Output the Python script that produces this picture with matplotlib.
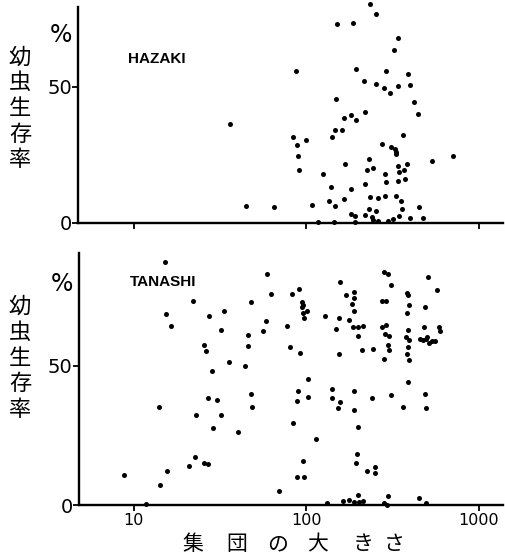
import matplotlib
matplotlib.use("Agg")
import matplotlib.pyplot as plt
from matplotlib.ticker import NullLocator, FixedLocator, FixedFormatter

# ---------------- data ----------------
# HAZAKI: colony size (individuals) and larval survival (%)
hazaki_size = [36, 45, 65, 87, 84, 88, 89, 91, 100, 108, 117, 124, 135, 138, 141,
               145, 146, 147, 148, 150, 160, 164, 167, 166, 180, 181, 180, 185, 191,
               193, 194, 191, 214, 217, 217, 217, 224, 229, 231, 234, 234, 239, 242,
               242, 253, 252, 253, 259, 258, 274, 280, 284, 284, 290, 290, 295, 306,
               308, 317, 320, 327, 331, 330, 331, 337, 337, 337, 337, 342, 342, 353,
               355, 363, 369, 371, 383, 388, 396, 400, 418, 443, 447, 472, 535, 708]
hazaki_surv = [36.3, 6.3, 5.9, 55.8, 31.5, 28.8, 24.5, 19.4, 30.5, 6.7, 0.4, 17.9, 8.0,
               13.1, 31.7, 0.4, 6.4, 34.3, 45.6, 73.0, 34.3, 38.7, 21.6, 8.9, 12.6, 39.7,
               3.4, 73.5, 2.7, 37.7, 56.6, 0.4, 52.2, 40.9, 14.3, 2.8, 19.4, 23.7, 5.3,
               80.6, 9.4, 2.2, 20.2, 1.0, 76.7, 51.2, 4.4, 9.1, 0.7, 29.2, 49.8, 17.9,
               9.9, 15.1, 55.8, 0.7, 47.8, 27.9, 1.6, 63.5, 27.3, 26.1, 25.2, 9.8, 68.1,
               50.2, 20.8, 15.3, 18.8, 2.5, 8.1, 5.0, 32.2, 19.6, 16.1, 21.8, 54.7, 50.9,
               1.8, 44.5, 40.2, 5.9, 1.8, 22.7, 24.6]

# TANASHI
tanashi_size = [8.8, 11.7, 13.9, 14.1, 15.2, 15.4, 15.6, 16.3, 20.9, 22.0, 22.7, 23.0,
                25.4, 25.4, 26.1, 26.8, 27.0, 27.1, 28.4, 28.7, 30.3, 31.9, 32.1, 33.1,
                35.5, 40.3, 44.3, 45.7, 45.7, 47.5, 47.7, 48.6, 55.7, 58.2, 59.3, 62.0,
                69.5, 77.6, 80.8, 83.0, 83.7, 88.3, 88.7, 89.5, 90.3, 91.5, 94.4, 94.8,
                95.7, 95.7, 95.7, 96.5, 97.0, 101, 102, 102, 114, 128, 132, 141, 141, 149,
                153, 154, 154, 156, 156, 164, 169, 176, 176, 186, 188, 189, 184, 190, 189,
                188, 188, 198, 198, 199, 196, 193, 199, 203, 212, 212, 210, 224, 245, 240,
                251, 249, 273, 290, 282, 297, 311, 274, 290, 287, 300, 297, 303, 283, 309,
                283, 296, 292, 361, 381, 389, 391, 381, 386, 378, 395, 386, 381, 391, 386,
                447, 497, 508, 573, 488, 482, 587, 593, 455, 475, 497, 515, 534, 558, 503,
                488, 497]
tanashi_surv = [10.8, 0.3, 35.4, 7.3, 87.4, 68.7, 12.4, 64.4, 13.9, 73.3, 17.3, 32.3,
                57.4, 15.0, 55.2, 14.6, 38.6, 67.8, 48.0, 27.7, 37.8, 32.5, 63.0, 69.6,
                51.3, 26.3, 49.8, 61.3, 57.2, 72.9, 39.8, 35.3, 62.4, 66.0, 83.0, 75.8,
                5.1, 64.4, 56.9, 76.0, 29.6, 37.5, 9.9, 40.9, 77.5, 54.7, 71.3, 73.1,
                71.9, 68.9, 16.0, 9.9, 67.1, 69.8, 45.3, 38.8, 23.6, 67.8, 0.6, 41.8,
                38.4, 63.4, 34.8, 54.3, 67.2, 80.2, 37.1, 1.5, 75.4, 66.4, 1.7, 64.0,
                76.7, 74.3, 72.2, 69.8, 41.0, 34.0, 1.2, 64.1, 60.6, 28.0, 18.2, 15.2,
                3.6, 1.2, 64.2, 1.4, 55.8, 12.1, 56.1, 38.5, 13.7, 11.5, 73.2, 73.2,
                83.8, 83.0, 79.2, 64.0, 64.7, 61.5, 60.6, 57.4, 55.8, 52.5, 39.6, 0.7,
                3.2, 0.0, 35.2, 76.4, 75.5, 71.9, 69.2, 62.9, 60.5, 59.3, 56.9, 54.4,
                52.0, 44.2, 2.5, 0.8, 81.8, 77.3, 71.2, 63.9, 63.9, 62.7, 59.6, 59.2,
                59.8, 58.3, 58.8, 58.8, 60.3, 39.9, 34.8]

panel_names = ["HAZAKI", "TANASHI"]
x_ticks = [10, 100, 1000]
x_tick_labels = ["10", "100", "1000"]
y_ticks = [0, 50]
y_tick_labels = ["0", "50"]
y_label_chars = ["幼", "虫", "生", "存", "率"]
x_label_chars = ["集", "団", "の", "大", "き", "さ"]

# ---------------- figure ----------------
W, H = 506, 560
fig = plt.figure(figsize=(W / 100, H / 100), dpi=100)
fig.patch.set_facecolor("white")

ax1 = fig.add_axes([0.155, 0.6018, 0.84, 0.3857])
ax2 = fig.add_axes([0.156, 0.0982, 0.838, 0.45])

cjk = ["Noto Sans CJK JP", "DejaVu Sans"]


def style(ax, ytop, show_xlabels):
    ax.set_xscale("log")
    ax.set_xlim(4.8, 1380)
    ax.set_ylim(0, ytop)
    for s in ("top", "right"):
        ax.spines[s].set_visible(False)
    for s in ("left", "bottom"):
        ax.spines[s].set_linewidth(1.7)
        ax.spines[s].set_color("black")
    ax.xaxis.set_minor_locator(NullLocator())
    ax.xaxis.set_major_locator(FixedLocator(x_ticks))
    if show_xlabels:
        ax.xaxis.set_major_formatter(FixedFormatter(x_tick_labels))
    else:
        ax.xaxis.set_major_formatter(FixedFormatter([""] * len(x_ticks)))
    ax.set_yticks(y_ticks)
    ax.set_yticklabels(y_tick_labels)
    ax.tick_params(axis="x", direction="out", length=4, width=1.3, pad=2,
                   labelsize=11.5, colors="black")
    ax.tick_params(axis="y", direction="out", length=4, width=1.3, pad=0.5,
                   labelsize=14, colors="black")


style(ax1, 79.4, False)
style(ax2, 90.6, True)

ax1.scatter(hazaki_size, hazaki_surv, s=13, c="black", linewidths=0,
            clip_on=False, zorder=3)
ax2.scatter(tanashi_size, tanashi_surv, s=13, c="black", linewidths=0,
            clip_on=False, zorder=3)

# panel names
fig.text(128 / W, 1 - 59 / H, panel_names[0], ha="left", va="center",
         fontsize=11, fontweight="bold", family="Liberation Sans")
fig.text(130 / W, 1 - 282 / H, panel_names[1], ha="left", va="center",
         fontsize=11, fontweight="bold", family="Liberation Sans")

# percent signs
fig.text(61 / W, 1 - 35 / H, "%", ha="center", va="center", fontsize=17)
fig.text(62 / W, 1 - 284 / H, "%", ha="center", va="center", fontsize=17)

# vertical stacked y-labels
for center in (108.5, 358):
    for i, ch in enumerate(y_label_chars):
        yc = center + (i - 2) * 25.75
        fig.text(20 / W, 1 - yc / H, ch, ha="center", va="center",
                 fontsize=16, family=cjk)

# spaced x-label
x_char_pos = [193, 237, 278, 318, 363, 394]
for xc, ch in zip(x_char_pos, x_label_chars):
    fig.text(xc / W, 1 - 544 / H, ch, ha="center", va="center",
             fontsize=15, family=cjk)

fig.savefig("out.png", dpi=100, facecolor="white")
